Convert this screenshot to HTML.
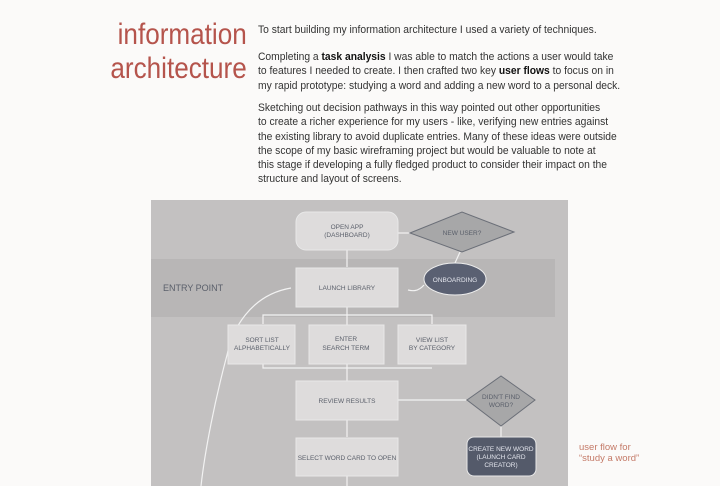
<!DOCTYPE html>
<html><head><meta charset="utf-8"><style>
html,body{margin:0;padding:0;}
body{width:720px;height:486px;background:#fbfaf9;position:relative;overflow:hidden;font-family:"Liberation Sans",sans-serif;}
.t{position:absolute;right:473px;color:#b5544c;font-size:30px;line-height:34px;text-align:right;top:18px;transform:scaleX(0.87);transform-origin:right top;}
.p{position:absolute;left:258px;font-size:11.2px;line-height:14.3px;color:#333;white-space:nowrap;transform:scaleX(0.92);transform-origin:left top;}
.p b{color:#111;}
.n{position:absolute;font-size:9.5px;line-height:11px;color:#c47a68;left:579px;top:442px;}
</style></head><body>
<div class="t">information<br>architecture</div>
<div class="p" style="top:23px">To start building my information architecture I used a variety of techniques.</div>
<div class="p" style="top:50px">Completing a <b>task analysis</b> I was able to match the actions a user would take<br>to features I needed to create. I then crafted two key <b>user flows</b> to focus on in<br>my rapid prototype: studying a word and adding a new word to a personal deck.</div>
<div class="p" style="top:101px">Sketching out decision pathways in this way pointed out other opportunities<br>to create a richer experience for my users - like, verifying new entries against<br>the existing library to avoid duplicate entries. Many of these ideas were outside<br>the scope of my basic wireframing project but would be valuable to note at<br>this stage if developing a fully fledged product to consider their impact on the<br>structure and layout of screens.</div>
<div class="n">user flow for<br>“study a word”</div>
<svg style="position:absolute;left:0;top:0" width="720" height="486" font-family="Liberation Sans, sans-serif">
<rect x="151" y="200" width="417" height="286" fill="#c3c1c1"/>
<rect x="151" y="259" width="404" height="58" fill="#b8b6b6"/>
<text x="163" y="291" font-size="9" fill="#5a5f6a">ENTRY POINT</text>
<g stroke="#f2f2f2" stroke-width="1.2" fill="none">
<line x1="347" y1="250" x2="347" y2="267"/>
<line x1="398" y1="233" x2="410" y2="233"/>
<line x1="460" y1="252" x2="455" y2="263"/>
<path d="M424,285 C418,292 412,291 408,290"/>
<line x1="347" y1="307" x2="347" y2="381"/>
<polyline points="263,324 263,315 432,315 432,324"/>
<polyline points="263,364 263,368 432,368"/>
<line x1="398" y1="400" x2="466" y2="400"/>
<line x1="501" y1="426" x2="501" y2="437"/>
<line x1="347" y1="420" x2="347" y2="437"/>
<line x1="347" y1="476" x2="347" y2="486"/>
<path d="M291,288 C250,295 232,330 227,355"/>
<path d="M227,355 C215,400 205,450 201,486"/>
</g>
<g fill="#dedcdc" stroke="#e8e8e8">
<rect x="296" y="212" width="102" height="38" rx="10"/>
<rect x="296" y="268" width="102" height="39"/>
<rect x="228" y="325" width="67" height="39"/>
<rect x="309" y="325" width="75" height="39"/>
<rect x="398" y="325" width="68" height="39"/>
<rect x="296" y="381" width="102" height="39"/>
<rect x="296" y="438" width="102" height="38"/>
</g>
<polygon points="410,233 462,212 514,232 462,252" fill="#a7a7a8" stroke="#6b6f78"/>
<polygon points="467,400 501,376 535,400 501,426" fill="#a7a7a8" stroke="#6b6f78"/>
<ellipse cx="455" cy="279" rx="31" ry="16" fill="#5a6072" stroke="#eee"/>
<rect x="467" y="437" width="69" height="39" rx="7" fill="#545a6a" stroke="#e8e8e8"/>
<g font-size="6.5" fill="#5a5f6a" text-anchor="middle">
<text x="347" y="229">OPEN APP</text><text x="347" y="237">(DASHBOARD)</text>
<text x="462" y="235">NEW USER?</text>
<text x="347" y="290">LAUNCH LIBRARY</text>
<text x="262" y="342">SORT LIST</text><text x="262" y="350">ALPHABETICALLY</text>
<text x="346" y="341">ENTER</text><text x="346" y="350">SEARCH TERM</text>
<text x="432" y="342">VIEW LIST</text><text x="432" y="350">BY CATEGORY</text>
<text x="347" y="403">REVIEW RESULTS</text>
<text x="501" y="399">DIDN'T FIND</text><text x="501" y="407">WORD?</text>
<text x="347" y="460">SELECT WORD CARD TO OPEN</text>
</g>
<g font-size="6.5" fill="#e4e6ee" text-anchor="middle">
<text x="455" y="282">ONBOARDING</text>
<text x="501" y="451">CREATE NEW WORD</text><text x="501" y="459">(LAUNCH CARD</text><text x="501" y="467">CREATOR)</text>
</g>
</svg>
</body></html>
